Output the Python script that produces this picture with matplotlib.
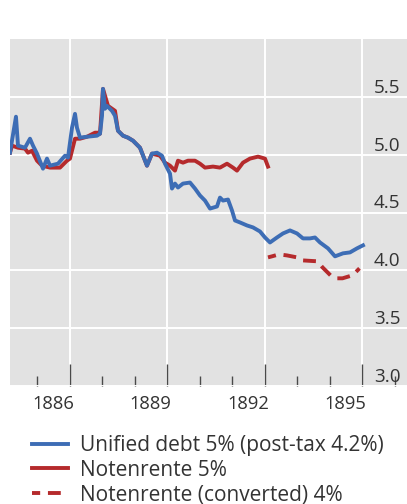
import matplotlib
matplotlib.use("Agg")
import matplotlib.pyplot as plt
import matplotlib.transforms as mtransforms
from matplotlib.ticker import MultipleLocator

plt.rcParams['font.family'] = ['Open Sans', 'DejaVu Sans']

# ---- data (decimal years, yield %) ----
unified_x = [1884.154, 1884.338, 1884.40, 1884.615, 1884.769, 1884.862, 1884.985, 1885.169,
             1885.292, 1885.385, 1885.631, 1885.846, 1885.938, 1886.062, 1886.154, 1886.215,
             1886.308, 1886.523, 1886.831, 1886.923, 1886.985, 1887.015, 1887.077, 1887.138,
             1887.292, 1887.385, 1887.477, 1887.631, 1887.785, 1887.938, 1888.154, 1888.369,
             1888.523, 1888.677, 1888.831, 1888.923, 1889.077, 1889.138, 1889.231, 1889.323,
             1889.477, 1889.692, 1889.846, 1890.0, 1890.154, 1890.308, 1890.523, 1890.615,
             1890.708, 1890.862, 1890.985, 1891.077, 1891.231, 1891.446, 1891.631, 1891.846,
             1892.0, 1892.154, 1892.369, 1892.554, 1892.769, 1892.985, 1893.169, 1893.385,
             1893.538, 1893.692, 1893.938, 1894.154, 1894.4, 1894.615, 1894.831, 1895.015]
unified_y = [5.017, 5.328, 5.078, 5.060, 5.138, 5.078, 5.009, 4.879,
             4.966, 4.905, 4.922, 4.991, 4.974, 5.233, 5.353, 5.233,
             5.147, 5.155, 5.164, 5.181, 5.336, 5.569, 5.397, 5.422,
             5.379, 5.336, 5.207, 5.164, 5.147, 5.121, 5.060, 4.905,
             5.009, 5.017, 4.991, 4.922, 4.836, 4.707, 4.750, 4.716,
             4.750, 4.759, 4.707, 4.647, 4.603, 4.534, 4.552, 4.629,
             4.603, 4.612, 4.517, 4.431, 4.414, 4.388, 4.371, 4.336,
             4.284, 4.241, 4.284, 4.319, 4.345, 4.319, 4.276, 4.276,
             4.284, 4.241, 4.190, 4.121, 4.147, 4.155, 4.190, 4.216]

noten_x = [1884.154, 1884.215, 1884.40, 1884.615, 1884.708, 1884.831, 1884.985, 1885.138,
           1885.385, 1885.692, 1885.908, 1886.0, 1886.154, 1886.308, 1886.523, 1886.769,
           1886.862, 1886.923, 1887.015, 1887.169, 1887.385, 1887.477, 1887.631, 1887.785,
           1887.938, 1888.154, 1888.369, 1888.523, 1888.769, 1888.923, 1889.077, 1889.231,
           1889.323, 1889.477, 1889.631, 1889.846, 1890.0, 1890.154, 1890.400, 1890.615,
           1890.831, 1891.015, 1891.138, 1891.323, 1891.538, 1891.785, 1892.0, 1892.092]
noten_y = [5.017, 5.078, 5.060, 5.052, 5.017, 5.034, 4.948, 4.905,
           4.888, 4.888, 4.948, 4.966, 5.138, 5.138, 5.155, 5.190,
           5.190, 5.181, 5.569, 5.422, 5.379, 5.207, 5.164, 5.147,
           5.121, 5.060, 4.905, 5.009, 4.991, 4.931, 4.905, 4.862,
           4.948, 4.931, 4.948, 4.948, 4.922, 4.888, 4.897, 4.888,
           4.922, 4.888, 4.862, 4.931, 4.966, 4.983, 4.966, 4.897]

conv_x = [1892.092, 1892.215, 1892.431, 1892.677, 1892.985, 1893.154, 1893.615, 1893.769,
          1894.015, 1894.169, 1894.385, 1894.692, 1894.908]
conv_y = [4.112, 4.121, 4.138, 4.129, 4.112, 4.086, 4.078, 4.026,
          3.957, 3.931, 3.931, 3.957, 4.017]

labels = ["Unified debt 5% (post-tax 4.2%)", "Notenrente 5%", "Notenrente (converted) 4%"]
x_major = [1886, 1889, 1892, 1895]
y_ticks = [3.0, 3.5, 4.0, 4.5, 5.0, 5.5]
y_ticklabels = ["3.0", "3.5", "4.0", "4.5", "5.0", "5.5"]

W, H = 407, 504
DPI = 100
fig = plt.figure(figsize=(W / DPI, H / DPI), dpi=DPI)

left_px, right_px, top_px, bot_px = 10, 420, 39, 386
ax = fig.add_axes([left_px / W, 1 - bot_px / H, (right_px - left_px) / W, (bot_px - top_px) / H])
ax.set_facecolor('#e2e2e2')
for s in ax.spines.values():
    s.set_visible(False)

x0 = 1884.154
ax.set_xlim(x0, x0 + (right_px - left_px) / 32.5)
ax.set_ylim(3.0, 6.0)

blue = '#3d6db5'
red = '#b52a2c'
l2, = ax.plot(noten_x, noten_y, color=red, lw=2.8, solid_joinstyle='round', zorder=3)
l3, = ax.plot(conv_x, conv_y, color=red, lw=2.8, ls=(1.2, (3.3, 2.0)), zorder=3)
l1, = ax.plot(unified_x, unified_y, color=blue, lw=2.8, solid_joinstyle='round', zorder=4)

ax.set_xticks(x_major)
ax.xaxis.set_minor_locator(MultipleLocator(1))
ax.set_yticks(y_ticks)
ax.grid(True, which='major', color='white', lw=1.4, zorder=1)
ax.set_axisbelow(True)
ax.tick_params(axis='x', which='major', direction='in', length=16, width=1.0, color='#4a4a4a',
               labelbottom=False)
ax.tick_params(axis='x', which='minor', direction='in', length=7.5, width=1.0, color='#4a4a4a')
ax.tick_params(axis='y', which='both', length=0, labelleft=False, labelright=False)

# x labels (shifted left of tick)
off_x = mtransforms.ScaledTranslation(-17 / DPI, -9 / DPI, fig.dpi_scale_trans)
tx = mtransforms.blended_transform_factory(ax.transData, ax.transAxes) + off_x
for yr in x_major:
    ax.text(yr, 0, str(yr), transform=tx, ha='center', va='top', fontsize=13.2, color='#333333')

# y labels inside the plot, above the gridline
off_y = mtransforms.ScaledTranslation(0, 4 / DPI, fig.dpi_scale_trans)
ty = mtransforms.blended_transform_factory(fig.transFigure, ax.transData) + off_y
for v, lab in zip(y_ticks, y_ticklabels):
    ax.text(374 / W, v, lab, transform=ty, ha='left', va='baseline', fontsize=13.6, color='#333333')

fig.legend([l1, l2, l3], labels, loc='upper left', bbox_to_anchor=(32 / W, 1 - 435 / H),
           frameon=False, fontsize=15, handlelength=1.75, handletextpad=0.55, labelspacing=0.18,
           borderaxespad=0, borderpad=0, labelcolor='#333333')

fig.savefig('out.png', dpi=DPI)
